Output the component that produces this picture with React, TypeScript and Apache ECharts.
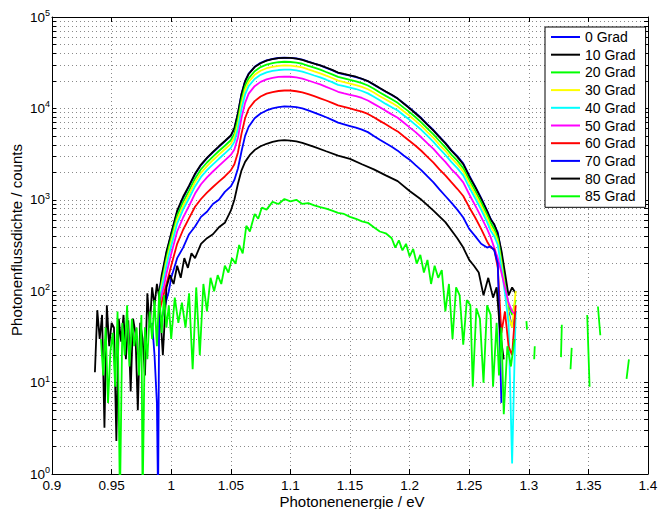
import React, { useEffect, useRef } from "react";
import * as echarts from "echarts";

// ---------- data ----------
const seriesNames = ["0 Grad", "10 Grad", "20 Grad", "30 Grad", "40 Grad", "50 Grad", "60 Grad", "70 Grad", "80 Grad", "85 Grad"];
const seriesColors = ["#0000ff", "#000000", "#00ff00", "#ffff00", "#00ffff", "#ff00ff", "#ff0000", "#0000ff", "#000000", "#00ff00"];

const xsMain = [0.984, 0.986, 0.988, 0.989, 0.99, 0.992, 0.994, 0.996, 0.998, 1.0,
  1.005, 1.01, 1.015, 1.02, 1.025, 1.03, 1.035, 1.04, 1.045, 1.05,
  1.053, 1.056, 1.059, 1.062, 1.065,
  1.07, 1.075, 1.08, 1.085, 1.09, 1.095, 1.1, 1.105, 1.11, 1.115,
  1.12, 1.125, 1.13, 1.135, 1.14, 1.145, 1.15, 1.155, 1.16, 1.165,
  1.17, 1.175, 1.18, 1.185, 1.19, 1.195, 1.2, 1.205, 1.21, 1.215,
  1.22, 1.225, 1.23, 1.235, 1.24, 1.245, 1.25, 1.255, 1.26, 1.265,
  1.268, 1.271, 1.274, 1.277, 1.28, 1.283, 1.286, 1.289];

const grad0 = [45, 20, 6, 0.5, 100, 140, 190, 260, 330, 420,
  740, 1050, 1400, 1900, 2400, 2850, 3300, 3800, 4350, 5000,
  6000, 8800, 14500, 20000, 24000,
  28500, 31500, 33500, 34800, 35600, 36000, 35800, 35200, 34200, 32500,
  31000, 29500, 27800, 26200, 24500, 23600, 22800, 22000, 21000, 19800,
  18200, 16600, 15200, 14000, 12800, 11400, 10100, 8900, 7800, 6700,
  5800, 4900, 4200, 3500, 3000, 2500, 1850, 1400, 1050, 760,
  620, 530, 440, 260, 130, 60, 40, 60];

const grad10 = [null, null, null, null, 95, 150, 200, 270, 340, 430,
  760, 1080, 1430, 1930, 2430, 2880, 3350, 3850, 4400, 5050,
  6100, 8900, 14300, 19800, 23800,
  28300, 31200, 33300, 34600, 35400, 35800, 35700, 35000, 34000, 32300,
  30900, 29600, 28000, 26400, 24700, 23800, 23000, 22200, 21100, 19900,
  18300, 16700, 15300, 14100, 12800, 11300, 10000, 8800, 7700, 6600,
  5700, 4850, 4150, 3450, 2950, 2450, 1800, 1380, 1030, 750,
  610, 540, 420, 280, 160, 90, 110, 95];

const grad20 = [null, null, null, null, 90, 125, 170, 230, 300, 380,
  670, 950, 1260, 1710, 2160, 2560, 2970, 3420, 3900, 4480,
  5300, 7600, 12500, 17600, 21300,
  25500, 28300, 30100, 31300, 32000, 32400, 32200, 31700, 30800, 29200,
  27900, 26600, 25000, 23600, 22100, 21300, 20500, 19800, 18900, 17800,
  16400, 14900, 13700, 12600, 11500, 10200, 9100, 8000, 7000, 6000,
  5200, 4400, 3750, 3130, 2680, 2220, 1650, 1250, 940, 690,
  560, 480, 380, 220, 120, 70, 55, 80];

const grad30 = [null, null, null, null, 85, 115, 155, 210, 270, 345,
  610, 860, 1150, 1560, 1970, 2340, 2710, 3120, 3570, 4100,
  4800, 6800, 11200, 16000, 19500,
  23300, 25800, 27500, 28500, 29200, 29500, 29400, 28900, 28100, 26700,
  25400, 24200, 22800, 21500, 20100, 19400, 18700, 18000, 17200, 16200,
  14900, 13600, 12500, 11500, 10500, 9300, 8300, 7300, 6400, 5500,
  4750, 4000, 3440, 2870, 2460, 2050, 1520, 1150, 860, 630,
  510, 440, 350, 200, 110, 55, 40, 100];

const grad40 = [null, null, null, null, 80, 105, 140, 190, 245, 310,
  550, 780, 1040, 1400, 1780, 2110, 2440, 2810, 3220, 3700,
  4300, 6000, 9900, 14200, 17500,
  21000, 23300, 24800, 25700, 26300, 26600, 26500, 26000, 25300, 24100,
  22900, 21800, 20600, 19400, 18100, 17500, 16900, 16300, 15500, 14600,
  13400, 12300, 11200, 10300, 9500, 8400, 7500, 6600, 5800, 5000,
  4300, 3630, 3100, 2600, 2220, 1850, 1370, 1040, 780, 570,
  460, 400, 320, 180, 95, 45, 1.3, 60];

const grad50 = [null, null, null, null, 70, 90, 115, 155, 200, 255,
  450, 640, 860, 1170, 1480, 1760, 2040, 2350, 2700, 3100,
  3550, 4800, 7900, 11500, 14500,
  17500, 19500, 20800, 21600, 22100, 22300, 22200, 21800, 21200, 20200,
  19200, 18300, 17200, 16200, 15200, 14600, 14100, 13600, 13000, 12200,
  11200, 10300, 9400, 8600, 7900, 7000, 6200, 5500, 4800, 4150,
  3600, 3040, 2600, 2170, 1860, 1550, 1150, 870, 650, 480,
  390, 300, 230, 160, 110, 75, 60, 55];

const grad60 = [null, null, null, null, 60, 75, 95, 120, 150, 190,
  330, 470, 630, 840, 1020, 1200, 1380, 1580, 1800, 2100,
  2450, 3300, 5300, 7800, 9900,
  12000, 13500, 14500, 15100, 15500, 15700, 15700, 15400, 15000, 14300,
  13600, 12900, 12200, 11500, 10800, 10400, 10000, 9600, 9200, 8700,
  8000, 7300, 6700, 6100, 5600, 4950, 4400, 3900, 3420, 2950,
  2550, 2150, 1850, 1560, 1320, 1100, 830, 640, 480, 350,
  300, 290, 180, 35, 60, 25, 20, 70];

const grad70 = [null, null, null, null, 40, 50, 62, 80, 100, 140,
  230, 300, 420, 510, 650, 740, 900, 1000, 1220, 1400,
  1650, 2200, 3400, 5000, 6300,
  7800, 8800, 9500, 10000, 10300, 10500, 10450, 10300, 10000, 9500,
  9000, 8500, 8000, 7500, 7000, 6700, 6400, 6150, 5850, 5500,
  5000, 4550, 4150, 3800, 3450, 3050, 2750, 2400, 2100, 1800,
  1550, 1300, 1100, 930, 780, 640, 480, 400, 330, 300,
  310, 280, 200, 6, null, null, null, null];

const x80 = [0.936, 0.938, 0.94, 0.942, 0.944, 0.946, 0.948, 0.95, 0.952, 0.954,
  0.956, 0.958, 0.96, 0.962, 0.964, 0.966, 0.968, 0.97, 0.972, 0.974,
  0.976, 0.978, 0.98, 0.982, 0.984, 0.986, 0.988, 0.99,
  0.993, 0.996, 0.999, 1.002, 1.005, 1.008, 1.011, 1.014, 1.017, 1.02,
  1.025, 1.03, 1.035, 1.04, 1.045, 1.05,
  1.053, 1.056, 1.059, 1.062, 1.066,
  1.07, 1.075, 1.08, 1.085, 1.09, 1.095, 1.1, 1.105, 1.11,
  1.12, 1.13, 1.14, 1.15, 1.16, 1.17, 1.18, 1.19, 1.2, 1.21, 1.22, 1.23, 1.24,
  1.245, 1.25, 1.254, 1.258, 1.262, 1.266, 1.27, 1.273, 1.276, 1.279];
const grad80 = [13, 62, 30, 55, 3.2, 70, 25, 45, 40, 2.3,
  50, 28, 55, 18, 48, 8, 50, 35, 5, 45,
  30, 12, 95, 40, 110, 70, 120, 85,
  20, 110, 150, 120, 190, 140, 230, 180, 260, 230,
  330, 380, 420, 500, 560, 760,
  1000, 1500, 2100, 2600, 3100,
  3500, 3850, 4100, 4300, 4450, 4500, 4450, 4350, 4200,
  3800, 3400, 3050, 2800, 2450, 2150, 1850, 1600, 1250, 1000, 760, 570, 380,
  300, 220, 190, 160, 90, 140, 85, 110, 35, 18];

const x85 = [0.941, 0.943, 0.945, 0.947, 0.949, 0.951, 0.953, 0.955, 0.957, 0.959,
  0.961, 0.963, 0.965, 0.967, 0.969, 0.971, 0.973, 0.975,
  0.976, 0.978, 0.98, 0.982, 0.984, 0.986, 0.988, 0.99, 0.992, 0.994, 0.996, 0.998, 1.0,
  1.003, 1.006, 1.009, 1.012, 1.015, 1.018, 1.021, 1.024, 1.027, 1.03,
  1.033, 1.036, 1.039, 1.042, 1.045, 1.048, 1.051, 1.054, 1.057, 1.06, 1.063, 1.066,
  1.07, 1.073, 1.076, 1.08,
  1.085, 1.09, 1.095, 1.1, 1.105, 1.11, 1.115, 1.12, 1.125, 1.13, 1.135, 1.14,
  1.145, 1.15, 1.155, 1.16, 1.165, 1.17, 1.175, 1.18, 1.185,
  1.188, 1.191, 1.194, 1.197, 1.2, 1.203, 1.206, 1.209, 1.212, 1.215, 1.218,
  1.221, 1.224, 1.227, 1.23, 1.233, 1.236, 1.239, 1.242, 1.245, 1.248, 1.251,
  1.253, 1.256, 1.259, 1.262, 1.265, 1.268, 1.27, 1.273, 1.275, 1.277, 1.279, 1.282, 1.285, 1.288,
  1.293, 1.298, 1.2985, 1.301, 1.305, 1.3045, 1.316, 1.3277, 1.327, 1.331, 1.336, 1.335,
  1.342, 1.349, 1.351, 1.354, 1.358, 1.36, 1.37, 1.384, 1.382];
const grad85 = [30, 12, 40, 6, 22, 35, 9, 60, 0.5, 45,
  20, 70, 15, 50, 25, 40, 12, 55,
  0.5, 40, 18, 60, 30, 80, 25, 100, 35, 90, 40, 70, 30,
  85, 45, 75, 40, 95, 14, 110, 20, 120, 60,
  140, 100, 150, 120, 190, 160, 230, 200, 320, 260, 520, 450,
  700, 620, 820, 780,
  950, 900, 1020, 960, 1000, 900, 920, 870, 830, 800, 760, 720,
  700, 650, 620, 580, 560, 500, 450, 430, 380,
  300, 360, 280, 330, 240, 290, 200, 250, 160, 220, 120,
  190, 140, 170, 60, 120, 30, 110, 90, 26, 80, 70,
  9, 65, 50, 10, 70, 55, 9, 45, 12, 40, 4.5, 25, 15, 30,
  null, 47, 38, null, 25, 18, null, 43, 19, null, 24, 14,
  null, 55, 9, null, 68, 33, null, 18, 11];

const yMajorTicks = [1, 10, 100, 1000, 10000, 100000];
const yAllTicks = [1, 2, 3, 4, 5, 6, 7, 8, 9,
  10, 20, 30, 40, 50, 60, 70, 80, 90,
  100, 200, 300, 400, 500, 600, 700, 800, 900,
  1000, 2000, 3000, 4000, 5000, 6000, 7000, 8000, 9000,
  10000, 20000, 30000, 40000, 50000, 60000, 70000, 80000, 90000, 100000];

const xTitle = "Photonenenergie / eV";
const yTitle = "Photonenflussdichte / counts";

// ---------- helpers ----------
const FONT = '"Liberation Sans", Arial, Helvetica, sans-serif';

function pairs(xs: number[], ys: (number | null)[]) {
  return xs.map((x, i) => [x, ys[i] == null ? "-" : ys[i]]);
}

const seriesData = [
  pairs(xsMain, grad0),
  pairs(xsMain, grad10),
  pairs(xsMain, grad20),
  pairs(xsMain, grad30),
  pairs(xsMain, grad40),
  pairs(xsMain, grad50),
  pairs(xsMain, grad60),
  pairs(xsMain, grad70),
  pairs(x80, grad80),
  pairs(x85, grad85),
];

export default function App() {
  const ref = useRef<HTMLDivElement>(null);

  useEffect(() => {
    if (!ref.current) return;
    const chart = echarts.init(ref.current, undefined, { renderer: "svg" });

    const gridLine = { show: true, lineStyle: { color: "#8a8a8a", type: [1, 3], width: 1 } };
    const axisLine = { show: true, onZero: false, lineStyle: { color: "#000", width: 1 } };

    const option: any = {
      animation: false,
      backgroundColor: "#fff",
      grid: { left: 52, right: 12, top: 17, bottom: 35, outerBoundsMode: "none", containLabel: false },
      xAxis: [
        {
          type: "value", min: 0.9, max: 1.4, interval: 0.05, position: "bottom",
          axisLine, axisTick: { show: true, inside: true, length: 5, lineStyle: { color: "#000" } },
          axisLabel: {
            show: true, margin: 4, color: "#000", fontFamily: FONT, fontSize: 13.5,
            formatter: (v: number) => String(Number(v.toFixed(2))),
          },
          splitLine: gridLine,
        },
        {
          type: "value", min: 0.9, max: 1.4, interval: 0.05, position: "top",
          axisLine, axisTick: { show: true, inside: true, length: 5, lineStyle: { color: "#000" } },
          axisLabel: { show: false }, splitLine: { show: false },
        },
      ],
      yAxis: [
        {
          type: "log", logBase: 10, min: 1, max: 100000, position: "left",
          axisLine,
          axisTick: { show: true, inside: true, length: 4, customValues: yAllTicks, lineStyle: { color: "#000" } },
          axisLabel: {
            show: true, margin: 2, customValues: yMajorTicks,
            formatter: (v: number) => `{b|10}{e|${Math.round(Math.log10(v))}}`,
            rich: {
              b: { fontSize: 13.5, fontFamily: FONT, color: "#000", lineHeight: 17 },
              e: { fontSize: 9, fontFamily: FONT, color: "#000", lineHeight: 9, verticalAlign: "top" },
            },
          },
          splitLine: gridLine,
        },
        {
          type: "log", logBase: 10, min: 1, max: 100000, position: "right",
          axisLine,
          axisTick: { show: true, inside: true, length: 4, customValues: yAllTicks, lineStyle: { color: "#000" } },
          axisLabel: { show: false }, splitLine: { show: false },
        },
      ],
      legend: {
        orient: "vertical", left: 545, top: 27,
        padding: [3, 10, 4, 5], itemWidth: 29, itemHeight: 14, itemGap: 3.7,
        backgroundColor: "#fff", borderColor: "#000", borderWidth: 1, borderRadius: 0,
        selectedMode: false,
        itemStyle: { opacity: 0 },
        lineStyle: { width: 2 },
        textStyle: { color: "#000", fontFamily: FONT, fontSize: 14 },
        data: seriesNames,
      },
      graphic: [
        {
          type: "text", x: 16, y: 240, rotation: Math.PI / 2,
          style: { text: yTitle, fill: "#000", font: `15px ${FONT}`, align: "center", verticalAlign: "middle" },
        },
        {
          type: "text", x: 352, y: 501.5,
          style: { text: xTitle, fill: "#000", font: `15px ${FONT}`, align: "center", verticalAlign: "middle" },
        },
      ],
      series: seriesNames.map((name, i) => ({
        name, type: "line", xAxisIndex: 0, yAxisIndex: 0,
        data: seriesData[i],
        showSymbol: false, symbol: "none", connectNulls: false, clip: true,
        lineStyle: { color: seriesColors[i], width: 1.8 },
        itemStyle: { color: seriesColors[i] },
        emphasis: { disabled: true },
      })),
    };

    chart.setOption(option);
    return () => chart.dispose();
  }, []);

  return <div ref={ref} style={{ position: "fixed", left: 0, top: 0, width: 660, height: 509 }} />;
}
